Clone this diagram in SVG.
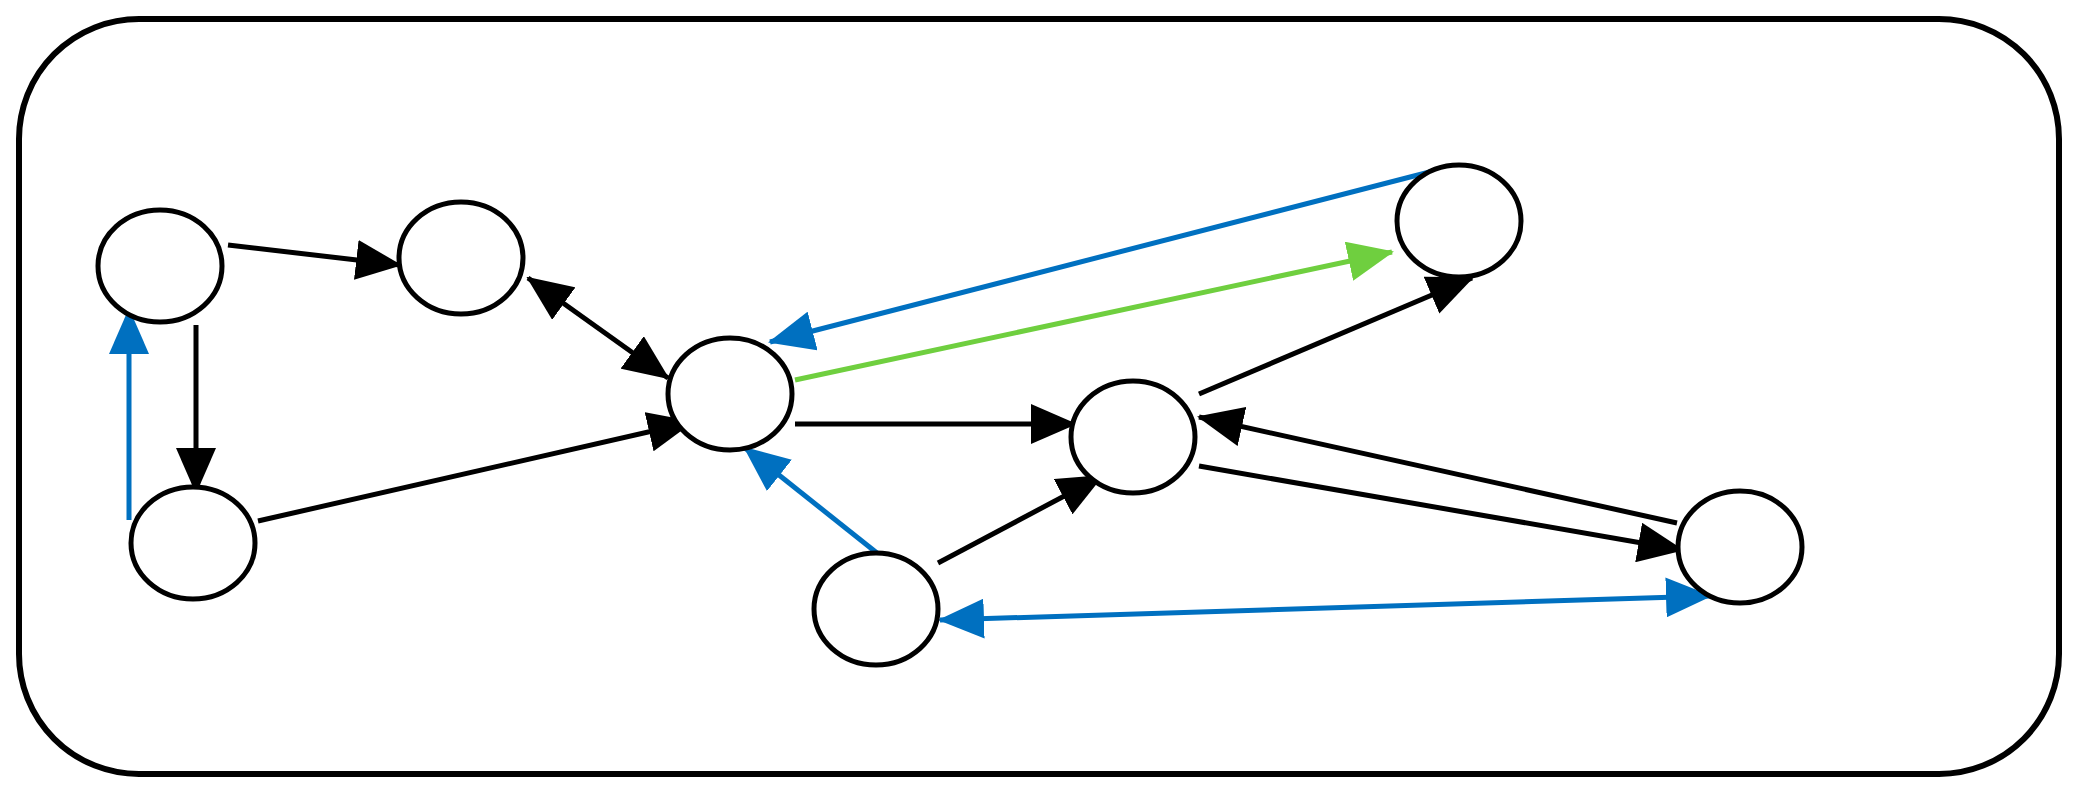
<svg xmlns="http://www.w3.org/2000/svg" width="2077" height="794" viewBox="0 0 2077 794">
<style>
.n{fill:#fff;stroke:#000;stroke-width:5}
.k{stroke:#000;stroke-width:5;fill:none}
.b{stroke:#0070c0;stroke-width:5;fill:none}
.g{stroke:#6fcf3f;stroke-width:5;fill:none}
</style>
<defs>
<marker id="mk" markerUnits="userSpaceOnUse" markerWidth="46" markerHeight="40" refX="44" refY="20" orient="auto-start-reverse"><path d="M0,0 L46,20 L0,40 z" fill="#000"/></marker>
<marker id="mb" markerUnits="userSpaceOnUse" markerWidth="46" markerHeight="40" refX="44" refY="20" orient="auto-start-reverse"><path d="M0,0 L46,20 L0,40 z" fill="#0070c0"/></marker>
<marker id="mg" markerUnits="userSpaceOnUse" markerWidth="46" markerHeight="40" refX="44" refY="20" orient="auto-start-reverse"><path d="M0,0 L46,20 L0,40 z" fill="#6fcf3f"/></marker>
</defs>
<rect x="19" y="19" width="2040" height="755" rx="120" ry="120" fill="#fff" stroke="#000" stroke-width="6"/>
<g id="connectors">
<line class="k" x1="228" y1="245" x2="400" y2="265" marker-end="url(#mk)"/>
<line class="k" x1="196" y1="325" x2="196" y2="492" stroke-width="4" marker-end="url(#mk)"/>
<line class="b" x1="129" y1="520" x2="129" y2="310" marker-end="url(#mb)"/>
<line class="k" x1="528" y1="278" x2="668" y2="378" marker-start="url(#mk)" marker-end="url(#mk)"/>
<line class="k" x1="258" y1="521" x2="692" y2="422" marker-end="url(#mk)"/>
<line class="k" x1="795" y1="424" x2="1075" y2="424" marker-end="url(#mk)"/>
<line class="k" x1="938" y1="563" x2="1102" y2="476" marker-end="url(#mk)"/>
<line class="k" x1="1199" y1="394" x2="1472" y2="278" marker-end="url(#mk)"/>
<line class="k" x1="1677" y1="523" x2="1199" y2="417" marker-end="url(#mk)"/>
<line class="k" x1="1199" y1="466" x2="1682" y2="550" marker-end="url(#mk)"/>
<line class="b" x1="1445" y1="168" x2="770" y2="342" marker-end="url(#mb)"/>
<line class="g" x1="795" y1="380" x2="1392" y2="252" marker-end="url(#mg)"/>
<line class="b" x1="882" y1="557" x2="745" y2="448" marker-end="url(#mb)"/>
<line class="b" x1="940" y1="620" x2="1710" y2="596" marker-start="url(#mb)" marker-end="url(#mb)"/>
</g>
<g id="A"><ellipse class="n" cx="160" cy="266" rx="62" ry="56"/></g>
<g id="B"><ellipse class="n" cx="461" cy="258" rx="62" ry="56"/></g>
<g id="C"><ellipse class="n" cx="193" cy="543" rx="62" ry="56"/></g>
<g id="D"><ellipse class="n" cx="730" cy="394" rx="62" ry="56"/></g>
<g id="E"><ellipse class="n" cx="1133" cy="437" rx="62" ry="56"/></g>
<g id="F"><ellipse class="n" cx="1459" cy="221" rx="62" ry="56"/></g>
<g id="G"><ellipse class="n" cx="876" cy="609" rx="62" ry="56"/></g>
<g id="H"><ellipse class="n" cx="1740" cy="547" rx="62" ry="56"/></g>
</svg>
